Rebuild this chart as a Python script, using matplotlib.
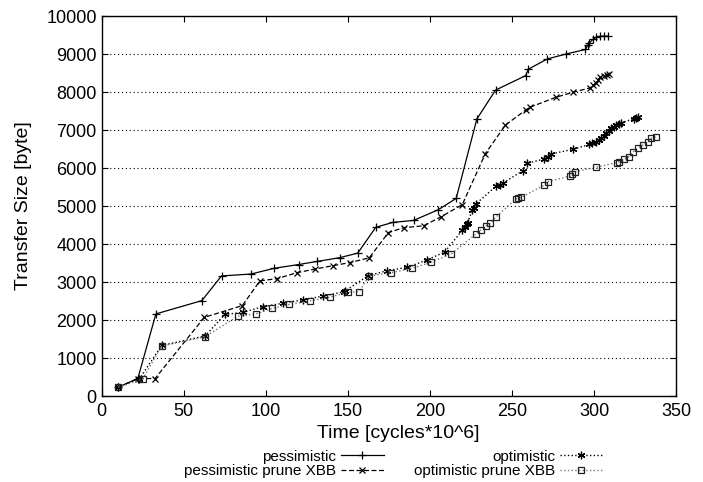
import matplotlib
matplotlib.use('Agg')
import matplotlib.pyplot as plt

plt.rcParams['font.family'] = ['Liberation Sans', 'DejaVu Sans']

# transfer size over time for the four strategies
t_pess = [10, 22, 33, 61, 73, 91, 105, 120, 131, 145, 156, 167, 177.5, 190,
          205, 216, 228.6, 240, 258.3, 260, 271.5, 283, 294.8, 296.2, 297.2,
          299.6, 301.3, 303.9, 306.3, 308.8]
s_pess = [230, 460, 2160, 2510, 3160, 3210, 3360, 3460, 3540, 3640, 3760, 4440,
          4570, 4620, 4900, 5200, 7290, 8050, 8430, 8600, 8870, 9000, 9120,
          9240, 9300, 9390, 9440, 9470, 9470, 9470]

t_pess_prune = [10, 22, 32.5, 62.5, 85.7, 96.4, 107, 119, 129.8, 141, 151, 163,
                174.7, 184, 196.2, 206.9, 219.7, 233.8, 246, 258.5, 261, 276.7,
                287, 297.6, 299.6, 301.3, 302.3, 303.9, 305.9, 308, 309.4]
s_pess_prune = [230, 460, 460, 2070, 2380, 3030, 3090, 3245, 3340, 3430, 3510,
                3635, 4300, 4430, 4480, 4720, 5035, 6380, 7130, 7530, 7600, 7860,
                7990, 8110, 8180, 8250, 8320, 8390, 8430, 8460, 8470]

t_opt = [10, 23, 36.5, 63, 75, 86, 98, 110.2, 122.7, 134.9, 147.7, 148.5, 162.3,
         174, 186.2, 198.2, 209, 219.7, 221.1, 222.5, 223, 225.8, 226.6, 228.2,
         240.4, 242.4, 244.4, 256.6, 259, 269.8, 271.8, 273.9, 287, 297.2, 299,
         301.3, 302.8, 304.3, 305.8, 307.4, 308.9, 310.4, 312, 313.4, 315,
         316.5, 324.6, 325.6, 326.6]
s_opt = [230, 450, 1330, 1580, 2145, 2200, 2350, 2440, 2530, 2630, 2745, 2770,
         3165, 3300, 3385, 3580, 3790, 4360, 4450, 4530, 4560, 4890, 4940, 5060,
         5530, 5560, 5600, 5930, 6120, 6240, 6300, 6370, 6490, 6620, 6650, 6690,
         6730, 6780, 6840, 6910, 6980, 7040, 7090, 7130, 7160, 7190, 7300, 7320,
         7350]

t_opt_prune = [10, 25, 36.5, 63, 83, 93.8, 104, 114.4, 126.8, 139, 150.1, 156.8,
               162.9, 176.5, 189, 200.8, 213, 228.2, 231.3, 233.9, 236.8, 240,
               252.2, 253.6, 255.6, 269.8, 271.8, 285.5, 286.7, 288.7, 301.3,
               313.8, 315.5, 318.5, 321.2, 324, 326.6, 329.6, 332.7, 334.7, 337.8]
s_opt_prune = [230, 450, 1315, 1560, 2100, 2160, 2305, 2410, 2500, 2600, 2730,
               2745, 3160, 3245, 3360, 3520, 3740, 4270, 4380, 4470, 4540, 4700,
               5180, 5200, 5230, 5550, 5640, 5790, 5840, 5900, 6020, 6140, 6170,
               6230, 6300, 6430, 6520, 6600, 6690, 6780, 6820]

fig = plt.figure(figsize=(7.03, 4.82), dpi=100)
ax = fig.add_axes([0.1447, 0.1784, 0.8170, 0.7884])

star = (6, 2, 0)
ax.plot(t_pess, s_pess, '-', color='black', lw=0.9, marker='+', ms=5.5,
        mew=0.9, label='pessimistic')
ax.plot(t_pess_prune, s_pess_prune, '--', color='black', lw=0.9, marker='x',
        ms=4.5, mew=0.9, dashes=(4, 2), label='pessimistic prune XBB')
ax.plot(t_opt, s_opt, ':', color='black', lw=1.0, marker=star, ms=5.5,
        mew=0.9, label='optimistic')
ax.plot(t_opt_prune, s_opt_prune, ':', color='#777777', lw=1.0, marker='s',
        ms=4.5, mew=0.9, mfc='none', mec='#222222', label='optimistic prune XBB')

ax.set_xlim(0, 350)
ax.set_ylim(0, 10000)
ax.set_xticks(range(0, 351, 50))
ax.set_yticks(range(0, 10001, 1000))
ax.tick_params(direction='in', top=True, right=True, length=4, labelsize=13)
ax.tick_params(axis='x', pad=5)
ax.yaxis.grid(True, linestyle=(0, (1, 2.5)), color='black', lw=0.8)
for sp in ax.spines.values():
    sp.set_linewidth(1.0)

ax.set_xlabel('Time [cycles*10^6]', fontsize=14)
ax.set_ylabel('Transfer Size [byte]', fontsize=14)
ax.xaxis.set_label_coords(0.517, -0.077)
ax.yaxis.set_label_coords(-0.121, 0.5)

h, l = ax.get_legend_handles_labels()
fig.legend(h, l, loc='upper center', bbox_to_anchor=(0.56, 0.08),
           ncol=2, markerfirst=False, frameon=False, fontsize=11,
           handlelength=2.8, columnspacing=2.0, labelspacing=0.05,
           handletextpad=0.3, borderaxespad=0)

fig.savefig('out.png', dpi=100)
